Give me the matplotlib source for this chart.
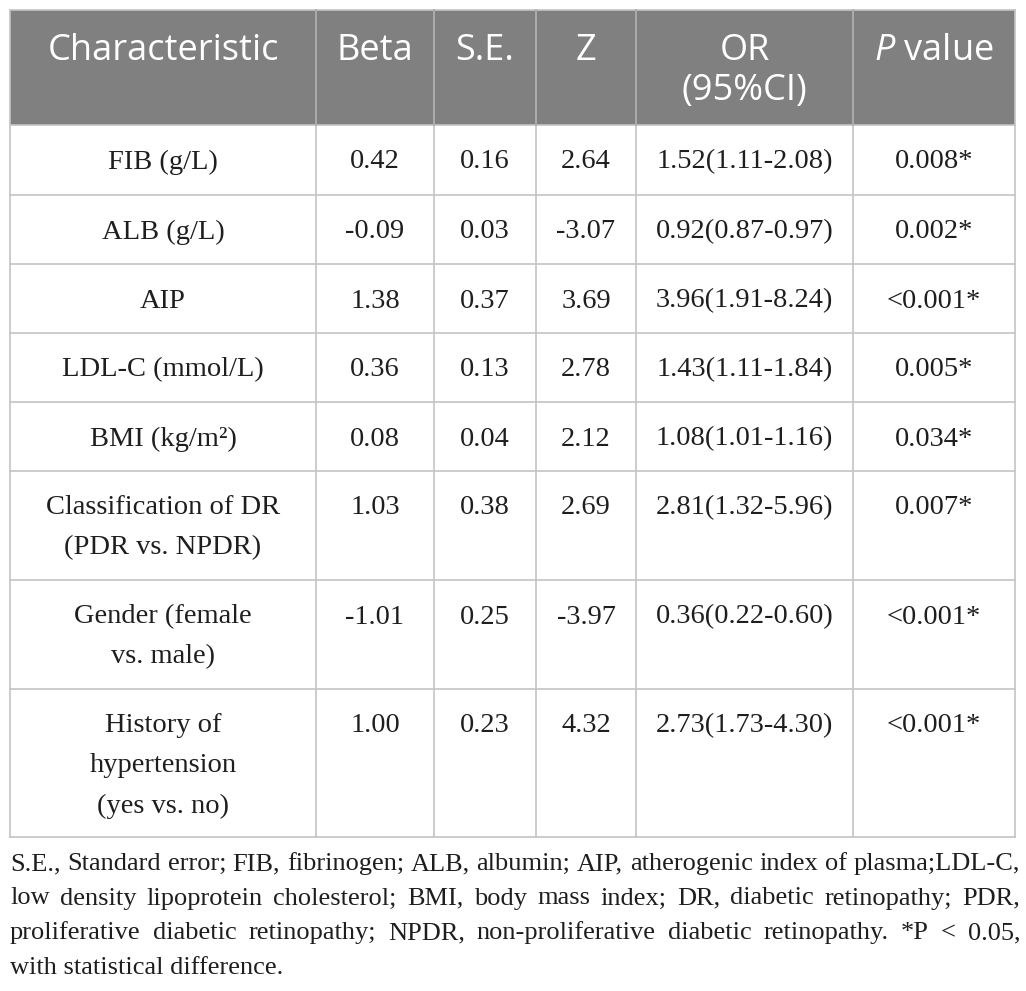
import matplotlib
matplotlib.use("Agg")
import matplotlib.pyplot as plt
from matplotlib.patches import Rectangle

plt.rcParams['mathtext.fontset'] = 'custom'
plt.rcParams['mathtext.rm'] = 'Open Sans'
plt.rcParams['mathtext.it'] = 'Open Sans:italic'

# ---------------- data ----------------
headers = ["Characteristic", "Beta", "S.E.", "Z", "OR\n(95%CI)", r"$\mathit{P}$ value"]
characteristics = ["FIB (g/L)", "ALB (g/L)", "AIP", "LDL-C (mmol/L)", "BMI (kg/m\u00b2)",
                   "Classification of DR\n(PDR vs. NPDR)", "Gender (female\nvs. male)",
                   "History of\nhypertension\n(yes vs. no)"]
beta = ["0.42", "-0.09", "1.38", "0.36", "0.08", "1.03", "-1.01", "1.00"]
se = ["0.16", "0.03", "0.37", "0.13", "0.04", "0.38", "0.25", "0.23"]
zval = ["2.64", "-3.07", "3.69", "2.78", "2.12", "2.69", "-3.97", "4.32"]
or_ci = ["1.52(1.11-2.08)", "0.92(0.87-0.97)", "3.96(1.91-8.24)", "1.43(1.11-1.84)",
         "1.08(1.01-1.16)", "2.81(1.32-5.96)", "0.36(0.22-0.60)", "2.73(1.73-4.30)"]
p_value = ["0.008*", "0.002*", "<0.001*", "0.005*", "0.034*", "0.007*", "<0.001*", "<0.001*"]
footnote_lines = [
    "S.E., Standard error; FIB, fibrinogen; ALB, albumin; AIP, atherogenic index of plasma;LDL-C,",
    "low density lipoprotein cholesterol; BMI, body mass index; DR, diabetic retinopathy; PDR,",
    "proliferative diabetic retinopathy; NPDR, non-proliferative diabetic retinopathy. *P < 0.05,",
    "with statistical difference.",
]

# ---------------- layout ----------------
W, H = 1026, 991
col_x = [10, 316, 434, 536, 636, 853, 1015]
row_y = [10, 125, 195, 264, 333, 402, 471, 580, 689, 837]
header_bg = "#808080"
grid_col = "#c4c4c4"
line_gap = 40
serif = "Liberation Serif"
sans = "Open Sans"
body_size = 20.5
text_col = "#1e1e1e"

fig = plt.figure(figsize=(W / 100, H / 100), dpi=100)
ax = fig.add_axes([0, 0, 1, 1])
ax.set_xlim(0, W)
ax.set_ylim(H, 0)
ax.axis("off")

# header background
ax.add_patch(Rectangle((col_x[0], row_y[0]), col_x[-1] - col_x[0], row_y[1] - row_y[0],
                       facecolor=header_bg, edgecolor="none"))

# grid lines
for x in col_x:
    ax.plot([x, x], [row_y[0], row_y[-1]], color=grid_col, lw=1.2)
for y in row_y:
    ax.plot([col_x[0], col_x[-1]], [y, y], color=grid_col, lw=1.2)
for x in col_x[1:-1]:
    ax.plot([x, x], [row_y[0], row_y[1]], color="#a8a8a8", lw=1.2)

def centers(i):
    return (col_x[i] + col_x[i + 1]) / 2

# header text
for i, h in enumerate(headers):
    lines = h.split("\n")
    for k, ln in enumerate(lines):
        ax.text(centers(i), row_y[0] + 41 + k * line_gap, ln, ha="center", va="center",
                color="white", fontsize=26, family=sans)

# body
cols = [characteristics, beta, se, zval, or_ci, p_value]
for r in range(len(characteristics)):
    top = row_y[r + 1]
    for c, colvals in enumerate(cols):
        lines = colvals[r].split("\n")
        for k, ln in enumerate(lines):
            ax.text(centers(c), top + 37 + k * line_gap, ln, ha="center", va="center",
                    color=text_col, fontsize=body_size, family=serif)

# footnote (justified, common baseline)
fig.canvas.draw()
renderer = fig.canvas.get_renderer()
fn_left, fn_right = 10, 1020
fn_base0, fn_gap = 870, 34.5
fn_size = 19
for li, line in enumerate(footnote_lines):
    y = fn_base0 + li * fn_gap
    words = line.split(" ")
    if li == len(footnote_lines) - 1:
        ax.text(fn_left, y, line, ha="left", va="baseline", fontsize=fn_size,
                family=serif, color=text_col)
        continue
    arts = []
    widths = []
    for w in words:
        t = ax.text(0, y, w, ha="left", va="baseline", fontsize=fn_size, family=serif,
                    color=text_col)
        bb = t.get_window_extent(renderer)
        arts.append(t)
        widths.append(bb.width)
    gap = (fn_right - fn_left - sum(widths)) / (len(words) - 1)
    x = fn_left
    for t, wd in zip(arts, widths):
        t.set_x(x)
        x += wd + gap

fig.savefig("out.png", dpi=100, facecolor="white")
